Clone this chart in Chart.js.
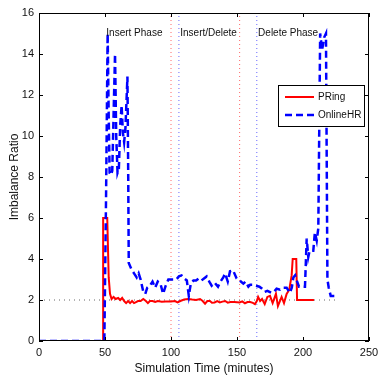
<!DOCTYPE html>
<html>
<head>
<meta charset="utf-8">
<script src="https://cdn.jsdelivr.net/npm/chart.js@4.4.0/dist/chart.umd.min.js"></script>
<style>
  html, body { margin: 0; padding: 0; background: #fff; }
  canvas { display: block; }
</style>
</head>
<body>
<canvas id="myCanvas" width="378" height="380"></canvas>
<script>
// PRing (red solid)
const pringTime = [0, 48.5, 48.6, 51.7, 52.8, 53.8, 55, 56.5, 58, 60, 61.5, 63, 64.5, 66, 67.5, 69, 70.5, 72, 73.5, 75,
  77, 79, 81, 82.5, 84, 86, 88, 90, 93, 96, 100, 103, 105, 107, 110, 113, 116, 119, 122, 124,
  125.8, 127.5, 129.5, 131, 133, 135, 137, 139, 141, 143, 145, 148, 152, 154, 156, 158, 160, 162, 163.6, 165,
  166, 167.5, 169, 171, 173, 175, 177, 179.5, 181, 183.8, 185.6, 187.6, 189.6, 191.4, 192.2, 194.9, 195.5, 208.3];
const pringRatio = [0, 0, 6.0, 6.0, 3.1, 2.3, 2.05, 2.15, 2.05, 2.1, 2.0, 2.1, 1.95, 1.85, 1.95, 1.85, 1.95, 1.85, 1.9, 1.95,
  1.95, 2.05, 1.95, 1.85, 1.95, 1.95, 1.9, 1.95, 1.92, 1.93, 1.93, 1.95, 1.88, 1.95, 2.02, 2.05, 2.02, 2.0, 2.05, 1.95,
  1.82, 1.95, 1.95, 1.87, 1.88, 1.95, 1.88, 1.92, 1.95, 1.87, 1.9, 1.9, 1.88, 1.93, 1.84, 1.9, 1.9, 1.86, 1.8, 1.95,
  2.15, 1.95, 2.05, 1.8, 2.15, 2.2, 1.85, 2.3, 1.7, 2.15, 1.85, 2.3, 2.5, 3.2, 4.0, 4.0, 2.0, 2.0];

// OnlineHR (blue dashed)
const onlineTime = [0, 49.5, 50.8, 52, 52.8, 53.5, 54.5, 55.5, 57.6, 58.5, 59.5, 60.5, 61.5, 62.6, 63.5, 64.5, 65.5, 67, 67.6, 68,
  70, 72, 74, 75.5, 77, 79, 80.5, 82, 84, 86, 88, 90, 92, 94, 96, 98, 100, 102, 104, 106,
  108, 110, 112, 113.5, 115, 117, 119, 121, 123, 125, 127, 129, 130.8, 133, 135.6, 137.5, 139.6, 141, 143, 144.7,
  147, 149.7, 152, 154.8, 156.5, 158.6, 160, 162, 164, 167, 169, 171, 173, 176, 178, 180, 182.6, 185, 187.6, 190,
  191.5, 192.7, 194, 195, 197, 199, 201.5, 202.8, 204, 205, 207.8, 209, 210.4, 211.6, 213, 214.5, 216, 217.4, 218.5, 219.5,
  221, 226.7];
const onlineRatio = [0, 0, 7, 15.0, 11, 8.2, 8.1, 8.3, 14.0, 10, 8.2, 8.4, 10.5, 11.5, 10.2, 9.7, 10.4, 12.9, 8, 3.8,
  3.5, 3.3, 3.1, 3.3, 3.0, 2.4, 2.3, 2.6, 2.7, 2.9, 2.6, 2.9, 2.8, 2.3, 2.7, 3.0, 3.0, 3.0, 3.0, 3.15,
  3.2, 3.05, 2.95, 2.2, 2.8, 2.95, 2.95, 3.05, 2.95, 3.05, 3.15, 2.9, 2.7, 2.85, 2.65, 2.9, 3.1, 3.3, 2.9, 3.4,
  3.45, 3.05, 2.95, 2.8, 2.9, 2.65, 2.75, 2.75, 2.7, 2.65, 2.55, 2.4, 2.45, 2.35, 2.4, 2.55, 2.5, 2.6, 2.6, 2.35,
  2.6, 3.1, 3.2, 3.0, 2.65, 2.65, 2.65, 5.0, 4.1, 4.4, 4.4, 5.3, 4.9, 5.5, 15.0, 14.2, 14.8, 15.0, 3.0, 2.6,
  2.2, 2.2];

// phase boundaries and labels
const redMarks = [100, 152];
const blueMarks = [106, 165];
const baseLevel = 2;
const baseEnd = 226;
const phaseLabels = ["Insert Phase", "Insert/Delete", "Delete Phase"];
const phaseStarts = [51, 107, 166];
const phaseLevel = 15;

const xTicks = [0, 50, 100, 150, 200, 250];
const yTicks = [0, 2, 4, 6, 8, 10, 12, 14, 16];

function toPoints(xs, ys) {
  return xs.map((x, i) => ({ x: x, y: ys[i] }));
}

const datasets = [
  {
    label: "OnlineHR",
    data: toPoints(onlineTime, onlineRatio),
    borderColor: "#0000ff",
    borderWidth: 2.5,
    borderDash: [7, 4],
    order: 0,
  },
  {
    label: "PRing",
    data: toPoints(pringTime, pringRatio),
    borderColor: "#ff0000",
    borderWidth: 2,
    order: 1,
  },
];

redMarks.forEach((m) => {
  datasets.push({
    label: "",
    data: [{ x: m, y: 0 }, { x: m, y: 16 }],
    borderColor: "rgba(255,0,0,0.6)",
    borderWidth: 1,
    borderDash: [1, 3],
    order: 5,
  });
});
blueMarks.forEach((m) => {
  datasets.push({
    label: "",
    data: [{ x: m, y: 0 }, { x: m, y: 16 }],
    borderColor: "rgba(0,0,255,0.6)",
    borderWidth: 1,
    borderDash: [1, 3],
    order: 5,
  });
});
datasets.push({
  label: "",
  data: [{ x: 0, y: baseLevel }, { x: baseEnd, y: baseLevel }],
  borderColor: "#666",
  borderWidth: 1,
  borderDash: [1, 4],
  order: 6,
});

const boxPlugin = {
  id: "box",
  afterDatasetsDraw(chart) {
    const ctx = chart.ctx;
    const a = chart.chartArea;
    const xs = chart.scales.x;
    const ys = chart.scales.y;
    ctx.save();
    ctx.strokeStyle = "#000";
    ctx.lineWidth = 1;
    ctx.strokeRect(a.left + 0.5, a.top + 0.5, a.right - a.left - 1, a.bottom - a.top - 1);
    ctx.beginPath();
    xTicks.forEach((t) => {
      const px = Math.round(xs.getPixelForValue(t)) + 0.5;
      ctx.moveTo(px, a.bottom);
      ctx.lineTo(px, a.bottom - 4);
      ctx.moveTo(px, a.top);
      ctx.lineTo(px, a.top + 4);
    });
    yTicks.forEach((t) => {
      const py = Math.round(ys.getPixelForValue(t)) + 0.5;
      ctx.moveTo(a.left, py);
      ctx.lineTo(a.left + 4, py);
      ctx.moveTo(a.right, py);
      ctx.lineTo(a.right - 4, py);
    });
    ctx.stroke();

    // phase labels
    ctx.fillStyle = "#111";
    ctx.font = "10px 'Liberation Sans', Arial, sans-serif";
    ctx.textBaseline = "middle";
    ctx.textAlign = "left";
    phaseLabels.forEach((txt, i) => {
      ctx.fillText(txt, xs.getPixelForValue(phaseStarts[i]), ys.getPixelForValue(phaseLevel));
    });

    // legend
    const lx = 278, ly = 85, lw = 86, lh = 41;
    ctx.fillStyle = "#fff";
    ctx.fillRect(lx, ly, lw, lh);
    ctx.strokeStyle = "#000";
    ctx.lineWidth = 1;
    ctx.strokeRect(lx + 0.5, ly + 0.5, lw, lh);
    const rows = [datasets[1], datasets[0]];
    rows.forEach((d, i) => {
      const y = ly + 12 + i * 18;
      ctx.save();
      ctx.strokeStyle = d.borderColor;
      ctx.lineWidth = d.borderWidth;
      ctx.setLineDash(d.borderDash || []);
      ctx.beginPath();
      ctx.moveTo(lx + 7, y);
      ctx.lineTo(lx + 36, y);
      ctx.stroke();
      ctx.restore();
      ctx.fillStyle = "#111";
      ctx.fillText(d.label, lx + 40, y);
    });
    ctx.restore();
  },
};

const ctx = document.getElementById("myCanvas").getContext("2d");
new Chart(ctx, {
  type: "line",
  data: { datasets: datasets },
  options: {
    responsive: false,
    animation: false,
    devicePixelRatio: 1,
    layout: { padding: { top: 13, right: 9, left: 0, bottom: 0 } },
    elements: { point: { radius: 0 }, line: { tension: 0 } },
    plugins: { legend: { display: false }, tooltip: { enabled: false } },
    scales: {
      x: {
        type: "linear",
        min: 0,
        max: 250,
        afterBuildTicks: (s) => { s.ticks = xTicks.map((v) => ({ value: v })); },
        afterFit: (s) => { s.height = 39; s.paddingLeft = 0; s.paddingRight = 0; },
        grid: { drawOnChartArea: false, drawTicks: false },
        border: { display: false },
        ticks: { color: "#111", padding: 5, maxRotation: 0, font: { family: "'Liberation Sans', Arial", size: 11 } },
        title: {
          display: true,
          text: "Simulation Time (minutes)",
          color: "#111",
          font: { family: "'Liberation Sans', Arial", size: 12 },
          padding: { top: 0, bottom: 4 },
        },
      },
      y: {
        type: "linear",
        min: 0,
        max: 16,
        afterBuildTicks: (s) => { s.ticks = yTicks.map((v) => ({ value: v })); },
        afterFit: (s) => { s.width = 39; s.paddingTop = 0; s.paddingBottom = 0; },
        grid: { drawOnChartArea: false, drawTicks: false },
        border: { display: false },
        ticks: { color: "#111", padding: 5, font: { family: "'Liberation Sans', Arial", size: 11 } },
        title: {
          display: true,
          text: "Imbalance Ratio",
          color: "#111",
          font: { family: "'Liberation Sans', Arial", size: 12 },
          padding: { top: 7, bottom: 0 },
        },
      },
    },
  },
  plugins: [boxPlugin],
});
</script>
</body>
</html>
